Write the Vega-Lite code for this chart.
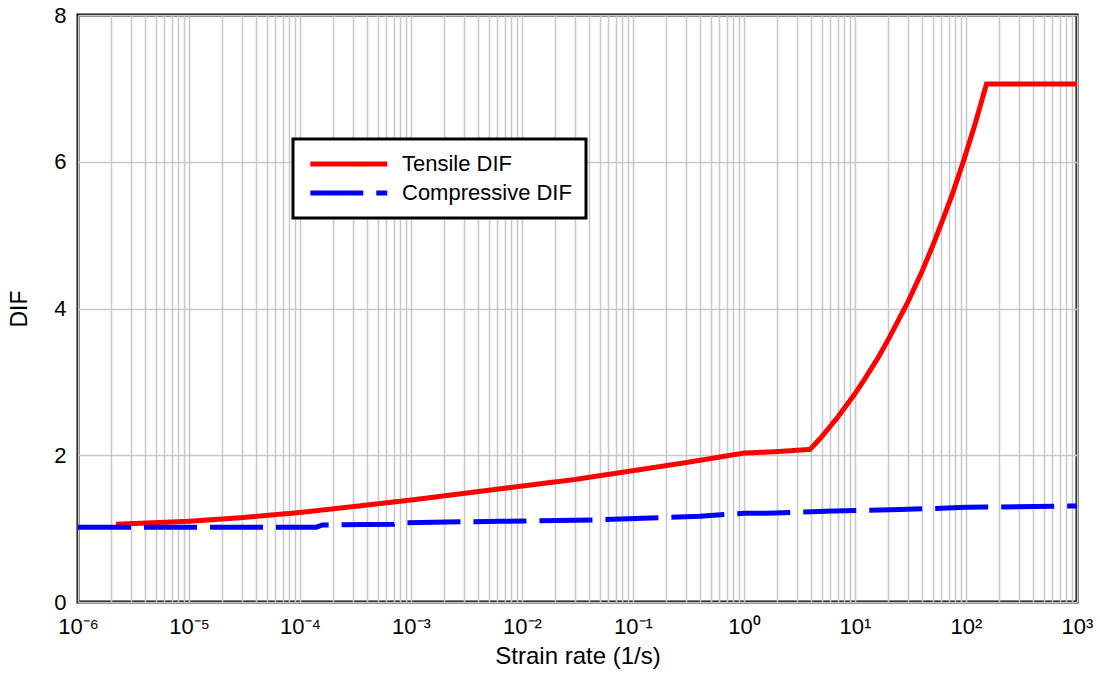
{
  "$schema": "https://vega.github.io/schema/vega-lite/v6.json",
  "width": 999,
  "height": 587,
  "autosize": "none",
  "padding": {"left": 78, "top": 15, "right": 23, "bottom": 73},
  "background": "white",
  "config": {
    "view": {"stroke": "black", "strokeWidth": 3},
    "font": "Liberation Sans",
    "axis": {
      "labelFont": "Liberation Sans",
      "titleFont": "Liberation Sans",
      "labelFontSize": 22,
      "titleFontSize": 23,
      "titleFontWeight": "normal",
      "labelColor": "black",
      "titleColor": "black",
      "gridColor": "#c8c8c8",
      "gridWidth": 1.5,
      "gridOpacity": 1,
      "ticks": false,
      "domain": false
    },
    "legend": {
      "strokeWidth": 3
    }
  },
  "data": {
    "values": [
      {"rate": 2.2e-6, "dif": 1.06, "series": "Tensile DIF"},
      {"rate": 1e-5, "dif": 1.10, "series": "Tensile DIF"},
      {"rate": 3e-5, "dif": 1.15, "series": "Tensile DIF"},
      {"rate": 1e-4, "dif": 1.22, "series": "Tensile DIF"},
      {"rate": 3e-4, "dif": 1.30, "series": "Tensile DIF"},
      {"rate": 1e-3, "dif": 1.39, "series": "Tensile DIF"},
      {"rate": 3e-3, "dif": 1.48, "series": "Tensile DIF"},
      {"rate": 1e-2, "dif": 1.58, "series": "Tensile DIF"},
      {"rate": 3e-2, "dif": 1.67, "series": "Tensile DIF"},
      {"rate": 1e-1, "dif": 1.79, "series": "Tensile DIF"},
      {"rate": 3e-1, "dif": 1.90, "series": "Tensile DIF"},
      {"rate": 1, "dif": 2.03, "series": "Tensile DIF"},
      {"rate": 2, "dif": 2.05, "series": "Tensile DIF"},
      {"rate": 3.94, "dif": 2.08, "series": "Tensile DIF"},
      {"rate": 5, "dif": 2.25, "series": "Tensile DIF"},
      {"rate": 7, "dif": 2.52, "series": "Tensile DIF"},
      {"rate": 10, "dif": 2.84, "series": "Tensile DIF"},
      {"rate": 12, "dif": 3.02, "series": "Tensile DIF"},
      {"rate": 16, "dif": 3.32, "series": "Tensile DIF"},
      {"rate": 20, "dif": 3.58, "series": "Tensile DIF"},
      {"rate": 30, "dif": 4.09, "series": "Tensile DIF"},
      {"rate": 40, "dif": 4.50, "series": "Tensile DIF"},
      {"rate": 50, "dif": 4.85, "series": "Tensile DIF"},
      {"rate": 60, "dif": 5.16, "series": "Tensile DIF"},
      {"rate": 75, "dif": 5.55, "series": "Tensile DIF"},
      {"rate": 95, "dif": 6.01, "series": "Tensile DIF"},
      {"rate": 120, "dif": 6.50, "series": "Tensile DIF"},
      {"rate": 153, "dif": 7.06, "series": "Tensile DIF"},
      {"rate": 1000, "dif": 7.06, "series": "Tensile DIF"},
      {"rate": 1e-6, "dif": 1.02, "series": "Compressive DIF"},
      {"rate": 3e-5, "dif": 1.02, "series": "Compressive DIF"},
      {"rate": 1.4e-4, "dif": 1.02, "series": "Compressive DIF"},
      {"rate": 1.6e-4, "dif": 1.05, "series": "Compressive DIF"},
      {"rate": 7e-4, "dif": 1.06, "series": "Compressive DIF"},
      {"rate": 8e-4, "dif": 1.08, "series": "Compressive DIF"},
      {"rate": 6.3e-3, "dif": 1.10, "series": "Compressive DIF"},
      {"rate": 5e-2, "dif": 1.12, "series": "Compressive DIF"},
      {"rate": 0.4, "dif": 1.17, "series": "Compressive DIF"},
      {"rate": 1, "dif": 1.21, "series": "Compressive DIF"},
      {"rate": 1.6, "dif": 1.21, "series": "Compressive DIF"},
      {"rate": 6.4, "dif": 1.24, "series": "Compressive DIF"},
      {"rate": 25.6, "dif": 1.26, "series": "Compressive DIF"},
      {"rate": 100, "dif": 1.29, "series": "Compressive DIF"},
      {"rate": 1000, "dif": 1.31, "series": "Compressive DIF"}
    ]
  },
  "mark": {"type": "line", "strokeWidth": 5, "strokeCap": "butt", "clip": true},
  "encoding": {
    "x": {
      "field": "rate",
      "type": "quantitative",
      "scale": {"type": "log", "domain": [1e-6, 1000], "nice": false},
      "axis": {
        "title": "Strain rate (1/s)",
        "titleFontSize": 24,
        "values": [1e-6,2e-6,3e-6,4e-6,5e-6,6e-6,7e-6,8e-6,9e-6,
                   1e-5,2e-5,3e-5,4e-5,5e-5,6e-5,7e-5,8e-5,9e-5,
                   1e-4,2e-4,3e-4,4e-4,5e-4,6e-4,7e-4,8e-4,9e-4,
                   1e-3,2e-3,3e-3,4e-3,5e-3,6e-3,7e-3,8e-3,9e-3,
                   1e-2,2e-2,3e-2,4e-2,5e-2,6e-2,7e-2,8e-2,9e-2,
                   0.1,0.2,0.3,0.4,0.5,0.6,0.7,0.8,0.9,
                   1,2,3,4,5,6,7,8,9,
                   10,20,30,40,50,60,70,80,90,
                   100,200,300,400,500,600,700,800,900,1000],
        "labelExpr": "abs(log(datum.value)/LN10 - round(log(datum.value)/LN10)) < 0.001 ? '10' + (round(log(datum.value)/LN10) < 0 ? '⁻' : '') + ['⁰','¹','²','³','⁴','⁵','⁶'][abs(round(log(datum.value)/LN10))] : ''",
        "labelOverlap": false,
        "labelFlush": false,
        "labelPadding": 14,
        "titlePadding": 7
      }
    },
    "y": {
      "field": "dif",
      "type": "quantitative",
      "scale": {"domain": [0, 8], "nice": false},
      "axis": {
        "title": "DIF",
        "values": [0, 2, 4, 6, 8],
        "labelPadding": 12,
        "titlePadding": 22
      }
    },
    "color": {
      "field": "series",
      "type": "nominal",
      "scale": {"domain": ["Tensile DIF", "Compressive DIF"], "range": ["#ff0000", "#0000ff"]},
      "legend": {
        "title": null,
        "orient": "none",
        "legendX": 215,
        "legendY": 124,
        "symbolType": "M-1,0H9",
        "symbolSize": 237,
        "symbolStrokeWidth": 5,
        "labelFontSize": 22,
        "labelFont": "Liberation Sans",
        "labelColor": "black",
        "labelOffset": 73,
        "labelLimit": 500,
        "strokeColor": "black",
        "padding": 14,
        "fillColor": "white",
        "rowPadding": 7
      }
    },
    "strokeDash": {
      "field": "series",
      "type": "nominal",
      "scale": {"domain": ["Tensile DIF", "Compressive DIF"], "range": [[1, 0], [53, 13]]},
      "legend": {
        "title": null,
        "orient": "none",
        "legendX": 215,
        "legendY": 124,
        "symbolType": "M-1,0H9",
        "symbolSize": 237,
        "symbolStrokeWidth": 5,
        "labelFontSize": 22,
        "labelFont": "Liberation Sans",
        "labelColor": "black",
        "labelOffset": 73,
        "labelLimit": 500,
        "strokeColor": "black",
        "padding": 14,
        "fillColor": "white",
        "rowPadding": 7
      }
    }
  }
}
